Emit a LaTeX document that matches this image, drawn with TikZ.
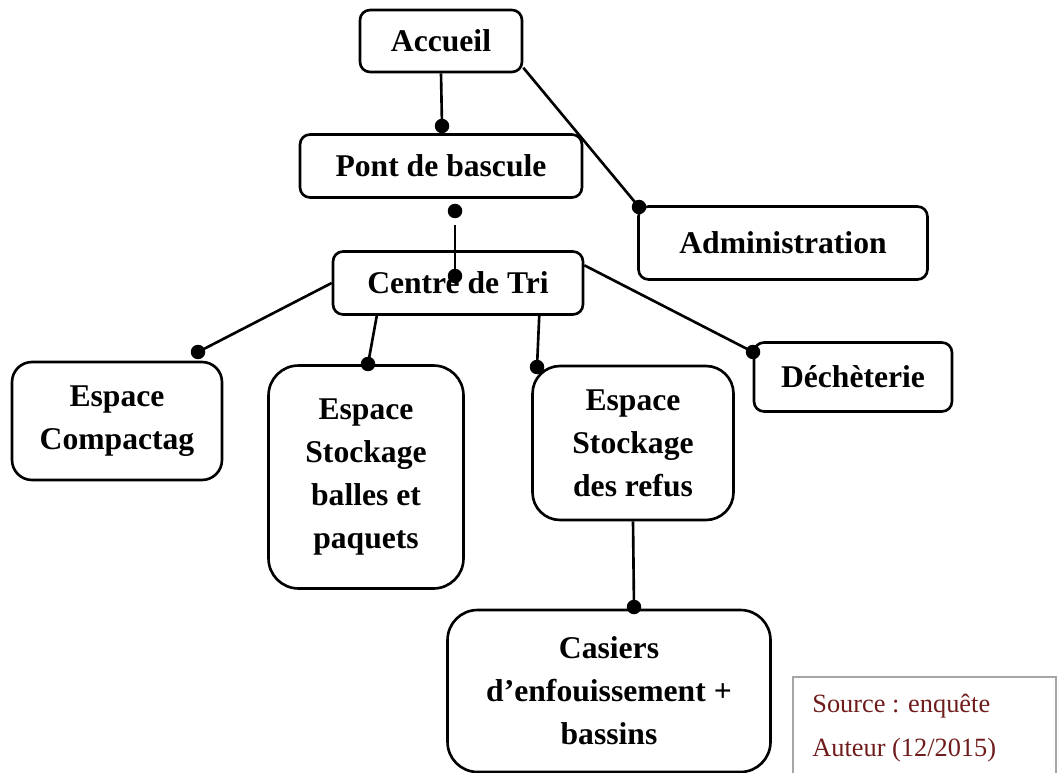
\documentclass[tikz,border=0pt]{standalone}
\usepackage{fontspec}
\setmainfont{Liberation Serif}
\usetikzlibrary{positioning}

\definecolor{sourcered}{RGB}{112,28,28}

\begin{document}
\begin{tikzpicture}[
    x=0.02cm, y=-0.02cm,
    % Node styles
    smallbox/.style={
        rectangle,
        rounded corners=0.2cm,
        draw=black,
        line width=1.5pt,
        font=\fontsize{18}{24.5}\selectfont\bfseries,
        align=center,
        inner sep=0pt
    },
    bigbox/.style={
        smallbox,
        rounded corners=0.55cm
    },
    dot/.style={
        circle,
        fill=black,
        inner sep=0pt,
        minimum size=0.29cm
    },
    link/.style={
        line width=1.5pt,
        black
    }
]
\useasboundingbox (0,0) rectangle (1057,773);

% === Top ===
\node[smallbox, minimum width=3.24cm, minimum height=1.24cm] (accueil) at (441,41) {Accueil};
\node[smallbox, minimum width=5.64cm, minimum height=1.26cm] (pont) at (441,166) {Pont de bascule};
\node[smallbox, minimum width=5.78cm, minimum height=1.46cm] (admin) at (783,243) {Administration};

% === Centre ===
\node[smallbox, minimum width=5cm, minimum height=1.26cm] (centre) at (458,283) {Centre de Tri};

% === Espaces ===
\node[bigbox, rounded corners=0.4cm, minimum width=4.2cm, minimum height=2.36cm] (compact) at (117,421) {Espace\\Compactag};
\node[bigbox, rounded corners=0.6cm, minimum width=3.9cm, minimum height=4.46cm] (balles) at (366,477) {Espace\\Stockage\\balles et\\paquets};
\node[bigbox, minimum width=4.02cm, minimum height=3.08cm] (refus) at (633,443) {Espace\\Stockage\\des refus};
\node[smallbox, minimum width=3.96cm, minimum height=1.38cm] (dechet) at (853,377) {Déchèterie};

% === Bottom ===
\node[bigbox, rounded corners=0.6cm, minimum width=6.46cm, minimum height=3.24cm] (casiers) at (609,691) {Casiers\\d’enfouissement +\\bassins};

% === Dots ===
\node[dot] (d1) at (442,126) {};
\node[dot] (d2) at (455,211) {};
\node[dot] (d3) at (455,276) {};
\node[dot] (d4) at (639,207) {};
\node[dot] (d5) at (198,352) {};
\node[dot] (d6) at (368,364) {};
\node[dot] (d7) at (537,367) {};
\node[dot] (d8) at (753,352) {};
\node[dot] (d9) at (634,607) {};
\coordinate (gap) at (455,225);

% === Connectors ===
\draw[link] (accueil.south) -- (d1.center);
\draw[link] (accueil.-18) -- (d4.center);
\draw[link] (gap) -- (d3.center);
\draw[link] (centre.west) -- (d5.center);
\draw[link] (centre.202) -- (d6.center);
\draw[link] (centre.-22) -- (d7.center);
\draw[link] (centre.8) -- (d8.center);
\draw[link] (refus.south) -- (d9.center);

% === Source ===
\draw[gray!70, line width=0.6pt] (793,780) -- (793,677) -- (1056,677) -- (1056,780);
\node[font=\fontsize{15}{18}\selectfont, text=sourcered, anchor=west, inner sep=0pt] (src) at (812,706) {Source : enquête};
\node[font=\fontsize{15}{18}\selectfont, text=sourcered, anchor=west, inner sep=0pt] (aut) at (812,750) {Auteur (12/2015)};

\end{tikzpicture}
\end{document}
